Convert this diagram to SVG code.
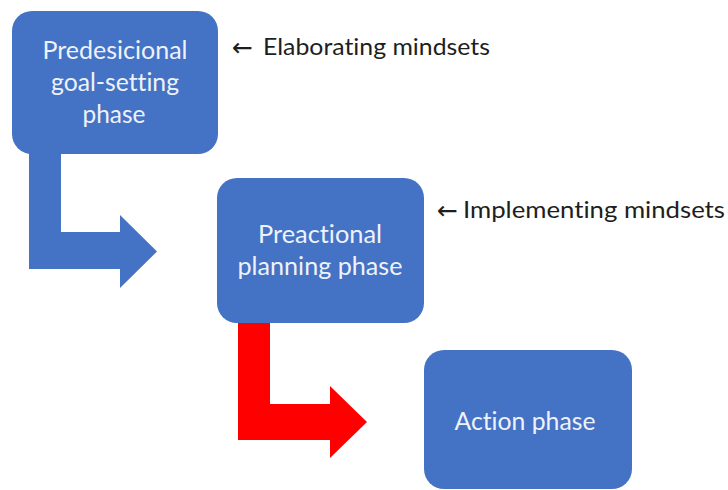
<svg xmlns="http://www.w3.org/2000/svg" width="728" height="490" viewBox="0 0 728 490">
  <style>
    text { font-variant-ligatures: none; }
    .box { fill: #4472C4; }
    .boxtext { font-family: Lato, "Open Sans", "DejaVu Sans", sans-serif; font-size: 25px; fill: #EEF2FA; text-anchor: middle; }
    .note { font-family: Lato, "Open Sans", "DejaVu Sans", sans-serif; font-size: 24px; fill: #1E1E1E; }
    .arr { font-family: "DejaVu Sans", sans-serif; font-size: 25px; fill: #1E1E1E; }
  </style>
  <rect width="728" height="490" fill="#FFFFFF"/>

  <!-- bent block arrows between phases -->
  <g id="connectors">
    <path d="M29,150 L61,150 L61,232 L120,232 L120,215 L157,251.5 L120,288 L120,269 L29,269 Z" fill="#4472C4"/>
    <path d="M238,320 L270,320 L270,404 L330,404 L330,386 L367,422 L330,458 L330,440 L238,440 Z" fill="#FF0000"/>
  </g>

  <g id="predecisional">
    <rect class="box" x="12" y="11" width="206" height="143" rx="20" ry="20"/>
    <text class="boxtext" x="115" y="59" textLength="145" lengthAdjust="spacingAndGlyphs">Predesicional</text>
    <text class="boxtext" x="115" y="91" textLength="128" lengthAdjust="spacingAndGlyphs">goal-setting</text>
    <text class="boxtext" x="114" y="123" textLength="63" lengthAdjust="spacingAndGlyphs">phase</text>
  </g>

  <g id="preactional">
    <rect class="box" x="217" y="178" width="207" height="145" rx="20" ry="20"/>
    <text class="boxtext" x="320" y="243" textLength="124" lengthAdjust="spacingAndGlyphs">Preactional</text>
    <text class="boxtext" x="320" y="275" textLength="165" lengthAdjust="spacingAndGlyphs">planning phase</text>
  </g>

  <g id="action">
    <rect class="box" x="424" y="350" width="208" height="139" rx="20" ry="20"/>
    <text class="boxtext" x="525" y="430" textLength="141" lengthAdjust="spacingAndGlyphs">Action phase</text>
  </g>

  <g id="elaborating-note">
    <text class="note"><tspan class="arr" x="232" y="56">←</tspan><tspan x="263" y="55" textLength="227" lengthAdjust="spacingAndGlyphs">Elaborating mindsets</tspan></text>
  </g>

  <g id="implementing-note">
    <text class="note"><tspan class="arr" x="437" y="219">←</tspan><tspan x="463" y="218" textLength="262" lengthAdjust="spacingAndGlyphs">Implementing mindsets</tspan></text>
  </g>
</svg>
